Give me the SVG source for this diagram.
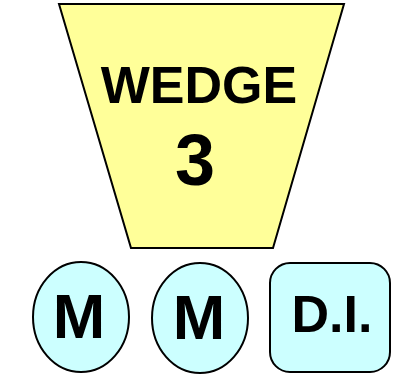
<svg xmlns="http://www.w3.org/2000/svg" width="394" height="381" viewBox="0 0 394 381">
<style>
.shape{stroke:#000;stroke-width:2}
.wedge{fill:#FFFF99}
.cyan{fill:#CCFFFF}
.t{font-family:"Liberation Sans",Arial,sans-serif;font-weight:bold;fill:#000;text-anchor:middle}
</style>
<rect width="394" height="381" fill="#fff"/>
<g id="wedge">
<polygon class="shape wedge" points="59,4 344,4 273,248 131,248"/>
<text class="t" x="199" y="103" font-size="52">WEDGE</text>
<text class="t" x="195" y="185" font-size="72">3</text>
</g>
<g id="m1">
<ellipse class="shape cyan" cx="81" cy="317" rx="48" ry="55"/>
<text class="t" x="79" y="338" font-size="63">M</text>
</g>
<g id="m2">
<ellipse class="shape cyan" cx="200" cy="318" rx="48" ry="55"/>
<text class="t" x="199" y="339" font-size="63">M</text>
</g>
<g id="di">
<rect class="shape cyan" x="270" y="263" width="120" height="109" rx="20" ry="20"/>
<text class="t" x="332" y="332" font-size="52">D.I.</text>
</g>
<g id="connectors"></g>
</svg>
